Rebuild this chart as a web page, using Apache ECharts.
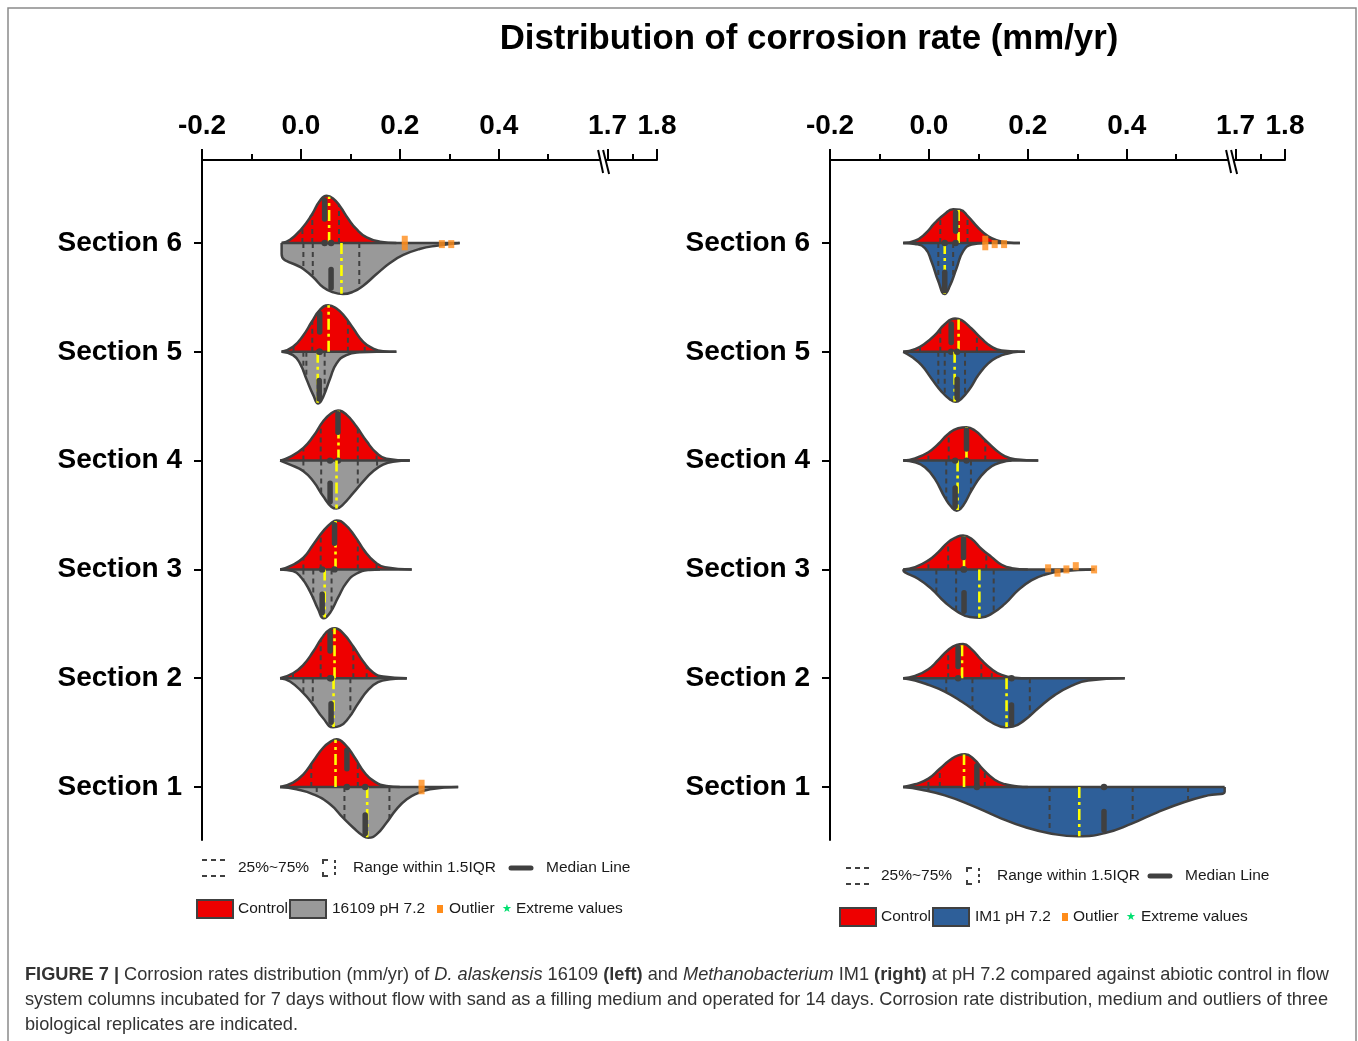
<!DOCTYPE html>
<html><head><meta charset="utf-8">
<script src="https://cdn.jsdelivr.net/npm/echarts@6/dist/echarts.min.js"></script>
<style>html,body{margin:0;padding:0;background:#fff}#c{width:1358px;height:1041px}</style>
</head><body><div id="c"></div>
<script>
// ---------- data ----------
const sectionNames = ['Section 1','Section 2','Section 3','Section 4','Section 5','Section 6'];
const sectionPos = [100,200,300,400,500,600];
const xTickValues = [-0.2, 0, 0.2, 0.4, 0.62, 0.72];
const xTickLabels = ['-0.2','0.0','0.2','0.4','1.7','1.8'];
const xMinorTicks = [-0.1, 0.1, 0.3, 0.5, 0.67];
const axisBreakAt = 0.611;

// half-violin outlines: [corrosion rate, half width] (index 0 = Section 1)
const leftControl = [
 [[-0.042,0],[-0.016,4],[0.005,11.7],[0.025,23.9],[0.045,36.1],[0.062,42.3],[0.072,43.8],[0.089,39.2],[0.109,26.9],[0.129,13.1],[0.149,4.9],[0.173,0.9],[0.2,0]],
 [[-0.042,0],[-0.016,4.6],[0.005,12.3],[0.025,24.5],[0.042,36.8],[0.059,45],[0.069,46],[0.085,41.4],[0.106,29.1],[0.126,15.3],[0.146,5.2],[0.166,1.5],[0.214,0]],
 [[-0.042,0],[-0.022,3],[0.005,10.7],[0.025,23],[0.045,35.2],[0.062,42.9],[0.072,45],[0.089,41.4],[0.109,30.6],[0.129,16.8],[0.149,7],[0.170,2.1],[0.224,0]],
 [[-0.042,0],[-0.022,3.4],[0.005,11.7],[0.025,22.3],[0.045,36.1],[0.062,43.8],[0.075,46],[0.092,42.3],[0.112,31.5],[0.133,17.7],[0.153,7],[0.173,1.8],[0.22,0]],
 [[-0.039,0],[-0.016,4.6],[0.005,15.3],[0.022,27.6],[0.038,38.3],[0.055,42.9],[0.072,39.8],[0.089,32.2],[0.106,21.4],[0.126,9.2],[0.146,3],[0.166,0.5],[0.193,0]],
 [[-0.039,0],[-0.022,3],[0.001,12.9],[0.022,26],[0.038,38.6],[0.052,43.5],[0.065,41],[0.079,33.7],[0.096,22],[0.112,12.9],[0.133,5.2],[0.160,1.2],[0.193,0]]
];
const leftTreat = [
 [[-0.042,0],[-0.009,2.1],[0.025,6.7],[0.059,15.9],[0.085,28.2],[0.106,37.4],[0.126,45],[0.136,46.6],[0.153,43.5],[0.173,32.8],[0.193,20.5],[0.214,11.3],[0.234,6.1],[0.261,2.1],[0.318,0]],
 [[-0.042,0],[-0.022,3],[0.005,13.8],[0.025,24.5],[0.045,36.8],[0.065,45],[0.079,43.8],[0.096,36.8],[0.116,23],[0.136,10.7],[0.156,3.7],[0.18,1],[0.214,0]],
 [[-0.042,0],[-0.016,1.5],[0.001,7.7],[0.018,19.9],[0.035,36.8],[0.046,45],[0.059,39.8],[0.075,26],[0.092,12.3],[0.112,4],[0.139,0.5],[0.160,0]],
 [[-0.042,0],[-0.022,3.7],[0.005,9.8],[0.025,19],[0.045,32.8],[0.062,42.6],[0.072,44.1],[0.085,40.4],[0.106,29.7],[0.126,19],[0.146,9.8],[0.166,3.7],[0.186,1],[0.22,0]],
 [[-0.039,0],[-0.016,3],[-0.002,10.7],[0.012,26],[0.025,39.8],[0.035,47.5],[0.045,41.4],[0.059,24.5],[0.072,10.7],[0.092,3],[0.119,0.5],[0.153,0]],
 [[-0.039,0],[-0.039,10],[0.005,23.9],[0.025,31.5],[0.045,40.7],[0.065,45.3],[0.085,46.9],[0.106,44.7],[0.126,39.2],[0.153,28.5],[0.180,18.4],[0.207,11],[0.240,5.5],[0.274,2.5],[0.321,0]]
];
const rightControl = [
 [[-0.052,0],[-0.028,2.5],[-0.001,7.7],[0.022,16.8],[0.042,24.5],[0.059,29.1],[0.073,30],[0.090,26],[0.110,15.9],[0.133,6.7],[0.154,2.5],[0.18,0.5],[0.2,0]],
 [[-0.052,0],[-0.028,2.1],[-0.001,8.3],[0.019,16.8],[0.039,26],[0.056,30.6],[0.069,31.5],[0.086,26.7],[0.106,16.8],[0.127,8.3],[0.147,3],[0.174,0.5],[0.2,0]],
 [[-0.052,0],[-0.028,2.1],[-0.001,8.3],[0.019,15.9],[0.039,25.1],[0.056,29.7],[0.069,31.2],[0.086,28.2],[0.106,19],[0.127,11.3],[0.147,4.3],[0.167,1.2],[0.2,0]],
 [[-0.052,0],[-0.028,2.1],[-0.001,7.7],[0.019,15.3],[0.039,24.5],[0.059,29.7],[0.076,30.6],[0.093,27.6],[0.113,19.3],[0.133,10.7],[0.154,4],[0.174,1.2],[0.221,0]],
 [[-0.052,0],[-0.028,2.5],[-0.008,7.7],[0.012,15.3],[0.032,25.4],[0.053,30.6],[0.066,29.1],[0.086,21.4],[0.106,12.3],[0.127,4.6],[0.147,1.2],[0.194,0]],
 [[-0.052,0],[-0.028,2.1],[-0.008,8.3],[0.012,18.4],[0.032,26.7],[0.049,31],[0.063,30.6],[0.079,24.5],[0.1,13.8],[0.120,6.1],[0.14,2.1],[0.16,0.5],[0.184,0]]
];
const rightTreat = [
 [[-0.052,0],[-0.015,2.5],[0.032,7.7],[0.086,16.8],[0.14,27.6],[0.194,36.8],[0.248,42.9],[0.302,45.3],[0.356,42.3],[0.41,33.7],[0.463,23],[0.517,13.8],[0.564,7.7],[0.598,4.6],[0.598,0]],
 [[-0.052,0],[-0.028,2.1],[-0.001,6.1],[0.032,12.3],[0.066,21.4],[0.1,32.2],[0.127,40.7],[0.154,45],[0.170,44.4],[0.194,38.3],[0.221,27.6],[0.255,15.3],[0.288,7],[0.322,2.1],[0.396,0]],
 [[-0.052,0],[-0.049,2.5],[-0.022,8.6],[0.005,17.8],[0.032,30],[0.059,39.2],[0.083,43.8],[0.103,44.4],[0.127,40.7],[0.154,31.5],[0.18,19.3],[0.207,10.1],[0.234,4.9],[0.268,1.8],[0.335,0]],
 [[-0.052,0],[-0.028,1.5],[-0.008,6.1],[0.012,16.8],[0.032,33.7],[0.046,42.9],[0.056,46],[0.069,41.4],[0.086,27.6],[0.106,13.8],[0.127,5.2],[0.147,1.5],[0.167,0]],
 [[-0.052,0],[-0.035,4.6],[-0.015,12.3],[0.005,24.5],[0.026,36.8],[0.042,43.5],[0.054,46],[0.066,42.9],[0.083,33.7],[0.1,21.4],[0.12,10.7],[0.14,4.6],[0.16,1.5],[0.18,0]],
 [[-0.052,0],[-0.028,0.9],[-0.008,4.6],[0.005,16.8],[0.019,35.2],[0.032,46.9],[0.042,39.8],[0.056,23],[0.069,7.7],[0.086,1.5],[0.113,0]]
];

// quartile / 1.5IQR dashed lines, means (yellow), medians (thick) per section
const leftControlDash = [[0.021,0.115],[-0.016,0.040,0.106,0.133],[0.005,0.040,0.115,0.153],[0.005,0.040,0.115,0.153],[-0.015,0.023,0.095,0.129],[0.003,0.023,0.077]];
const leftControlMean = [0.070,0.068,0.070,0.076,0.056,0.057];
const leftControlMedian = [0.093,0.059,0.068,0.075,0.038,0.048];
const leftTreatDash = [[0.032,0.088,0.179],[0.005,0.024,0.100],[0.005,0.025,0.062],[0.005,0.041,0.115,0.154],[0.005,0.011,0.048],[0.005,0.024,0.118]];
const leftTreatMean = [0.134,0.066,0.048,0.072,0.034,0.082];
const leftTreatMedian = [0.130,0.061,0.043,0.059,0.037,0.061];

const rightControlDash = [[-0.001,0.022,0.113],[0.039,0.106,0.127],[-0.001,0.039,0.116],[-0.001,0.040,0.114],[-0.018,0.023,0.097],[0.023,0.078]];
const rightControlMean = [0.071,0.067,0.071,0.076,0.060,0.060];
const rightControlMedian = [0.097,0.059,0.070,0.076,0.045,0.054];
const rightTreatDash = [[-0.001,0.244,0.412,0.524],[0.035,0.088,0.204],[0.015,0.055,0.131],[0.035,0.085],[0.019,0.032,0.073],[0.019,0.049]];
const rightTreatMean = [0.304,0.157,0.102,0.058,0.052,0.032];
const rightTreatMedian = [0.354,0.167,0.071,0.053,0.057,0.032];

// outliers: [section number, corrosion rate, vertical offset]
const leftOutliers = [[6,0.21,3],[6,0.21,-3],[6,0.285,-1],[6,0.304,-1],[1,0.244,3],[1,0.244,-3]];
const rightOutliers = [[6,0.114,3],[6,0.114,-3],[6,0.133,-1],[6,0.152,-1],[3,0.241,1],[3,0.26,-3],[3,0.278,0],[3,0.297,3],[3,0.334,0]];

// ---------- styling ----------
const FONT = 'Liberation Sans, Arial, Helvetica, sans-serif';
const C = {control:'#EE0000', left:'#999999', right:'#2E5F99', line:'#404040', mean:'#FFFF00', outlier:'#FF8C1A', extreme:'#00E070'};

function interp(prof, x){
  for (let k=0;k<prof.length-1;k++){
    const a=prof[k], b=prof[k+1];
    if (x>=a[0] && x<=b[0]){
      if (b[0]===a[0]) return Math.max(a[1],b[1]);
      return a[1]+(b[1]-a[1])*(x-a[0])/(b[0]-a[0]);
    }
  }
  return 0;
}

function violinSeries(xi, yi, profiles, sign, color){
  return profiles.map((prof,i)=>({
    type:'line', xAxisIndex:xi, yAxisIndex:yi, smooth:0.5,
    symbol:'none', silent:true, z:2,
    data: prof.map(p=>[p[0], sectionPos[i]+sign*p[1]]),
    lineStyle:{color:C.line, width:2.5},
    areaStyle:{color:color, opacity:1, origin:sectionPos[i]}
  }));
}

function markItems(cP,tP,cD,tD,cMean,tMean,cMed,tMed){
  const base=[], items=[];
  for (let i=0;i<6;i++){
    const b=sectionPos[i];
    const xs=cP[i].concat(tP[i]).map(p=>p[0]);
    base.push([Math.min(...xs),b,Math.max(...xs),b,3]);
    [[cP[i],cD[i],cMean[i],cMed[i],1],[tP[i],tD[i],tMean[i],tMed[i],-1]].forEach(([prof,dash,mean,med,s])=>{
      dash.forEach(x=>{ const h=Math.max(interp(prof,x)-0.5,0); items.push([x,b,x,b+s*h,0]); });
      const hm=interp(prof,mean); items.push([mean,b,mean,b+s*hm,1]);
      const hd=interp(prof,med); items.push([med,b+s*Math.max(hd-3,2),med,b+s*Math.max(hd-20,2),2]);
      items.push([med,b,med,b,4]);
    });
  }
  return base.concat(items);
}

function renderMarks(params, api){
  const k=api.value(4);
  const p0=api.coord([api.value(0),api.value(1)]);
  const p1=api.coord([api.value(2),api.value(3)]);
  if (k===4) return {type:'circle', shape:{cx:p0[0],cy:p0[1],r:3.2}, style:{fill:C.line}};
  let st;
  if (k===0) st={stroke:C.line,lineWidth:2,lineDash:[5,4]};
  else if (k===1) st={stroke:C.mean,lineWidth:2.6,lineDash:[11,4,3,4]};
  else if (k===2) st={stroke:C.line,lineWidth:5.5,lineCap:'round'};
  else st={stroke:C.line,lineWidth:2.5};
  return {type:'line', shape:{x1:p0[0],y1:p0[1],x2:p1[0],y2:p1[1]}, style:st};
}

function marksSeries(xi, yi, data){
  return {type:'custom', xAxisIndex:xi, yAxisIndex:yi, z:3, silent:true,
    dimensions:['x0','y0','x1','y1','k'], encode:{x:[0,2], y:[1,3]},
    renderItem:renderMarks, data:data};
}

function outlierSeries(xi, yi, list){
  return {type:'scatter', xAxisIndex:xi, yAxisIndex:yi, z:5, silent:true,
    symbol:'rect', symbolSize:[6,8], itemStyle:{color:C.outlier},
    data:list.map(o=>[o[1], sectionPos[o[0]-1]+o[2]])};
}

function xAxes(gi){
  return [{
    gridIndex:gi, type:'value', position:'top', min:-0.2, max:0.72,
    axisLine:{show:true,onZero:false,lineStyle:{color:'#000',width:2}},
    axisTick:{show:true,length:11,customValues:xTickValues,lineStyle:{color:'#000',width:2}},
    axisLabel:{show:true,customValues:xTickValues,margin:20,fontSize:28,fontWeight:'bold',color:'#000',fontFamily:FONT,
      formatter:v=>{ const i=xTickValues.findIndex(t=>Math.abs(t-v)<1e-6); return i<0?'':xTickLabels[i]; }},
    splitLine:{show:false}
  },{
    gridIndex:gi, type:'value', position:'top', min:-0.2, max:0.72,
    axisLine:{show:false,onZero:false},
    axisTick:{show:true,length:6,customValues:xMinorTicks,lineStyle:{color:'#000',width:2}},
    axisLabel:{show:false}, splitLine:{show:false}
  }];
}
function yAxisOf(gi){
  return {gridIndex:gi, type:'value', position:'left', min:51.3, max:676.3,
    axisLine:{show:true,onZero:false,lineStyle:{color:'#000',width:2}},
    axisTick:{show:true,length:8,customValues:sectionPos,lineStyle:{color:'#000',width:2}},
    axisLabel:{show:true,customValues:sectionPos,margin:20,fontSize:28,fontWeight:'bold',color:'#000',fontFamily:FONT,
      formatter:v=>{ const i=sectionPos.indexOf(Math.round(v)); return i<0?'':sectionNames[i]; }},
    splitLine:{show:false}};
}

const chart = echarts.init(document.getElementById('c'), null, {renderer:'canvas'});
const option = {
  animation:false,
  backgroundColor:'#fff',
  grid:[{left:202,top:160,width:455,height:680},{left:830,top:160,width:455,height:680}],
  xAxis:[...xAxes(0), ...xAxes(1)],
  yAxis:[yAxisOf(0), yAxisOf(1)],
  series:[
    ...violinSeries(0,0,leftControl,1,C.control),
    ...violinSeries(0,0,leftTreat,-1,C.left),
    ...violinSeries(2,1,rightControl,1,C.control),
    ...violinSeries(2,1,rightTreat,-1,C.right),
    marksSeries(0,0,markItems(leftControl,leftTreat,leftControlDash,leftTreatDash,leftControlMean,leftTreatMean,leftControlMedian,leftTreatMedian)),
    marksSeries(2,1,markItems(rightControl,rightTreat,rightControlDash,rightTreatDash,rightControlMean,rightTreatMean,rightControlMedian,rightTreatMedian)),
    outlierSeries(0,0,leftOutliers),
    outlierSeries(2,1,rightOutliers)
  ]
};
chart.setOption(option);

// ---------- decorations ----------
function txt(x,y,s,size,extra){
  return {type:'text', x:x, y:y, z:10, style:Object.assign({text:s, fontSize:size||15.5, fontFamily:FONT, fill:'#1a1a1a', align:'left', verticalAlign:'middle'}, extra||{})};
}
function legendGraphics(L){
  const g=[];
  const y1=L.y1, y2=L.y2;
  g.push({type:'line', shape:{x1:L.dash,y1:y1-8,x2:L.dash+26,y2:y1-8}, style:{stroke:C.line,lineWidth:2,lineDash:[5,4]}});
  g.push({type:'line', shape:{x1:L.dash,y1:y1+8,x2:L.dash+26,y2:y1+8}, style:{stroke:C.line,lineWidth:2,lineDash:[5,4]}});
  g.push(txt(L.t1,y1,'25%~75%'));
  g.push({type:'polyline', shape:{points:[[L.br+5,y1-8],[L.br,y1-8],[L.br,y1-4]]}, style:{stroke:C.line,lineWidth:2,fill:null}});
  g.push({type:'polyline', shape:{points:[[L.br,y1+4],[L.br,y1+8],[L.br+5,y1+8]]}, style:{stroke:C.line,lineWidth:2,fill:null}});
  g.push({type:'line', shape:{x1:L.br+12,y1:y1-8,x2:L.br+12,y2:y1+8}, style:{stroke:C.line,lineWidth:2,lineDash:[3,3]}});
  g.push(txt(L.t2,y1,'Range within 1.5IQR'));
  g.push({type:'line', shape:{x1:L.med,y1:y1,x2:L.med+20,y2:y1}, style:{stroke:C.line,lineWidth:5,lineCap:'round'}});
  g.push(txt(L.t3,y1,'Median Line'));
  g.push({type:'rect', shape:{x:L.box1,y:y2-9,width:36,height:18}, style:{fill:C.control,stroke:C.line,lineWidth:2}});
  g.push(txt(L.c1,y2,'Control'));
  g.push({type:'rect', shape:{x:L.box2,y:y2-9,width:36,height:18}, style:{fill:L.color,stroke:C.line,lineWidth:2}});
  g.push(txt(L.c2,y2,L.label));
  g.push({type:'rect', shape:{x:L.out,y:y2-4,width:6,height:8}, style:{fill:C.outlier}});
  g.push(txt(L.t4,y2,'Outlier'));
  g.push(txt(L.star,y2,'\u2605',11,{fill:C.extreme,align:'center'}));
  g.push(txt(L.t5,y2,'Extreme values'));
  return g;
}

function breakMarks(xAxisIndex){
  const cx = chart.convertToPixel({xAxisIndex:xAxisIndex}, axisBreakAt);
  const y = 160;
  return [
    {type:'polygon', z:20, shape:{points:[[cx-3,y-3],[cx+2,y-3],[cx+3,y+3],[cx-2,y+3]]}, style:{fill:'#fff'}},
    {type:'line', z:21, shape:{x1:cx-5,y1:y-10,x2:cx,y2:y+13}, style:{stroke:'#000',lineWidth:2}},
    {type:'line', z:21, shape:{x1:cx,y1:y-10,x2:cx+6,y2:y+14}, style:{stroke:'#000',lineWidth:2}}
  ];
}

const CAP = 18.2;
const richCap = {
  b:{fontWeight:'bold', fontSize:CAP, fontFamily:FONT, fill:'#333'},
  i:{fontStyle:'italic', fontSize:CAP, fontFamily:FONT, fill:'#333'}
};
const captionLines = [
  '{b|FIGURE 7 |} Corrosion rates distribution (mm/yr) of {i|D. alaskensis} 16109 {b|(left)} and {i|Methanobacterium} IM1 {b|(right)} at pH 7.2 compared against abiotic control in flow',
  'system columns incubated for 7 days without flow with sand as a filling medium and operated for 14 days. Corrosion rate distribution, medium and outliers of three',
  'biological replicates are indicated.'
];

const graphics = [
  {type:'rect', z:0, shape:{x:8,y:8,width:1348,height:1045}, style:{fill:null, stroke:'#8a8a8a', lineWidth:1.5}},
  txt(809,39,'Distribution of corrosion rate (mm/yr)',34.8,{fontWeight:'bold',fill:'#000',align:'center'}),
  ...legendGraphics({y1:868,y2:909,dash:202,t1:238,br:323,t2:353,med:511,t3:546,box1:197,c1:238,box2:290,c2:332,out:437,t4:449,star:507,t5:516,color:C.left,label:'16109 pH 7.2'}),
  ...legendGraphics({y1:876,y2:917,dash:846,t1:881,br:967,t2:997,med:1150,t3:1185,box1:840,c1:881,box2:933,c2:975,out:1062,t4:1073,star:1131,t5:1141,color:C.right,label:'IM1 pH 7.2'}),
  ...breakMarks(0), ...breakMarks(2),
  ...captionLines.map((s,i)=>txt(25,975+i*25,s,CAP,{fill:'#333',rich:richCap}))
];
chart.setOption({graphic:{elements:graphics}});
</script></body></html>
